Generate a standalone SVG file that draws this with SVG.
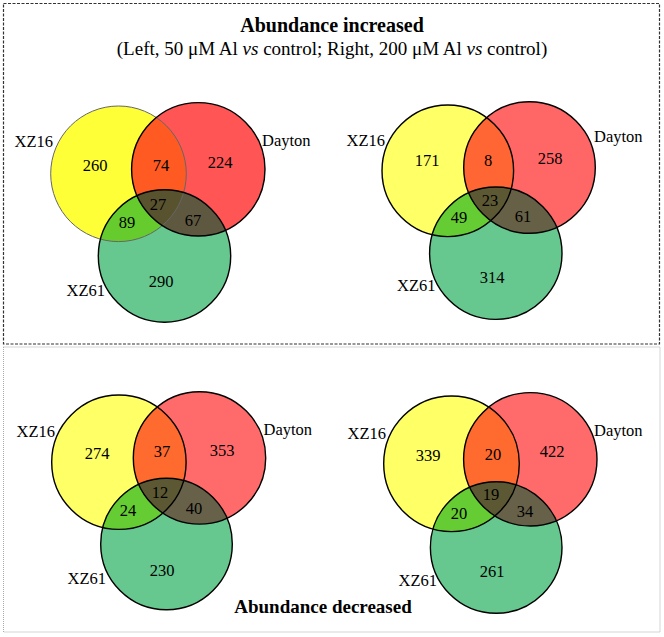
<svg xmlns="http://www.w3.org/2000/svg" width="664" height="637" viewBox="0 0 664 637">
<style>
text{font-family:"Liberation Serif","Times New Roman",serif;font-size:16.5px;fill:#000}
.t{font-weight:bold;font-size:20px}
.sub{font-size:19px}
.num{text-anchor:middle}
.ol{fill:none;stroke:#000;stroke-width:1.4}
.g{fill:#66C88F}
</style>
<defs>
<clipPath id="cY1" clipPathUnits="userSpaceOnUse"><circle cx="118.5" cy="173.8" r="67.8"/></clipPath>
<clipPath id="cR1" clipPathUnits="userSpaceOnUse"><circle cx="198.3" cy="169.3" r="66.7"/></clipPath>
<clipPath id="cY2" clipPathUnits="userSpaceOnUse"><circle cx="447.8" cy="170.8" r="65.8"/></clipPath>
<clipPath id="cR2" clipPathUnits="userSpaceOnUse"><circle cx="529.5" cy="167.5" r="65.8"/></clipPath>
<clipPath id="cY3" clipPathUnits="userSpaceOnUse"><circle cx="118.9" cy="462.2" r="67.2"/></clipPath>
<clipPath id="cR3" clipPathUnits="userSpaceOnUse"><circle cx="199.5" cy="457.9" r="66.2"/></clipPath>
<clipPath id="cY4" clipPathUnits="userSpaceOnUse"><circle cx="451.5" cy="463.8" r="67.8"/></clipPath>
<clipPath id="cR4" clipPathUnits="userSpaceOnUse"><circle cx="530.3" cy="459.3" r="66.7"/></clipPath>
</defs>
<rect width="664" height="637" fill="#fff"/>
<g id="frames">
<rect x="3.5" y="3.5" width="656" height="340.5" fill="none" stroke="#333" stroke-width="1.2" stroke-dasharray="3,1.5"/>
<rect x="3.5" y="347" width="656.5" height="285" fill="none" stroke="#aaa" stroke-width="1" stroke-dasharray="1,1"/>
</g>
<g id="titles">
<text class="t" x="332" y="32" text-anchor="middle">Abundance increased</text>
<text class="sub" x="332" y="55" text-anchor="middle">(Left, 50 μM Al <tspan font-style="italic">vs</tspan> control; Right, 200 μM Al <tspan font-style="italic">vs</tspan> control)</text>
<text class="t" x="323" y="613" text-anchor="middle" style="font-size:19px">Abundance decreased</text>
</g>
<g id="venn-inc-50">
<circle cx="118.5" cy="173.8" r="67.8" fill="#FFFF38"/>
<circle cx="198.3" cy="169.3" r="66.7" fill="#FF5555"/>
<circle cx="164.5" cy="256" r="66.2" class="g"/>
<circle cx="198.3" cy="169.3" r="66.7" fill="#FF5A22" clip-path="url(#cY1)"/>
<circle cx="164.5" cy="256" r="66.2" fill="#66CC2E" clip-path="url(#cY1)"/>
<circle cx="164.5" cy="256" r="66.2" fill="#5F5840" clip-path="url(#cR1)"/>
<g clip-path="url(#cR1)"><circle cx="164.5" cy="256" r="66.2" fill="#58522E" clip-path="url(#cY1)"/></g>
<g id="set-XZ16-a"><circle cx="118.5" cy="173.8" r="67.8" fill="none" stroke="#666" stroke-width="1"/><text x="53" y="147" text-anchor="end">XZ16</text></g>
<g id="set-Dayton-a"><circle cx="198.3" cy="169.3" r="66.7" class="ol"/><text x="262" y="146">Dayton</text></g>
<g id="set-XZ61-a"><circle cx="164.5" cy="256" r="66.2" class="ol"/><text x="105" y="295.5" text-anchor="end">XZ61</text></g>
<text class="num" x="95" y="171">260</text>
<text class="num" x="161" y="171">74</text>
<text class="num" x="220" y="168">224</text>
<text class="num" x="158" y="210">27</text>
<text class="num" x="127" y="228">89</text>
<text class="num" x="193" y="226">67</text>
<text class="num" x="161" y="287">290</text>
</g>
<g id="venn-inc-200">
<circle cx="447.8" cy="170.8" r="65.8" fill="#FFFF66"/>
<circle cx="529.5" cy="167.5" r="65.8" fill="#FF6666"/>
<circle cx="495.8" cy="253.2" r="66.2" class="g"/>
<circle cx="529.5" cy="167.5" r="65.8" fill="#FF6633" clip-path="url(#cY2)"/>
<circle cx="495.8" cy="253.2" r="66.2" fill="#66CC33" clip-path="url(#cY2)"/>
<circle cx="495.8" cy="253.2" r="66.2" fill="#666046" clip-path="url(#cR2)"/>
<g clip-path="url(#cR2)"><circle cx="495.8" cy="253.2" r="66.2" fill="#5C5833" clip-path="url(#cY2)"/></g>
<g id="set-XZ16-b"><circle cx="447.8" cy="170.8" r="65.8" class="ol"/><text x="385" y="145.5" text-anchor="end">XZ16</text></g>
<g id="set-Dayton-b"><circle cx="529.5" cy="167.5" r="65.8" class="ol"/><text x="594" y="142">Dayton</text></g>
<g id="set-XZ61-b"><circle cx="495.8" cy="253.2" r="66.2" class="ol"/><text x="435.5" y="290.5" text-anchor="end">XZ61</text></g>
<text class="num" x="427" y="165.5">171</text>
<text class="num" x="488" y="165.5">8</text>
<text class="num" x="550" y="164">258</text>
<text class="num" x="490" y="205.5">23</text>
<text class="num" x="459" y="223">49</text>
<text class="num" x="523" y="222">61</text>
<text class="num" x="492" y="283">314</text>
</g>
<g id="venn-dec-50">
<circle cx="118.9" cy="462.2" r="67.2" fill="#FFFF66"/>
<circle cx="199.5" cy="457.9" r="66.2" fill="#FF6B6B"/>
<circle cx="166.5" cy="544" r="65.8" class="g"/>
<circle cx="199.5" cy="457.9" r="66.2" fill="#FF6A2E" clip-path="url(#cY3)"/>
<circle cx="166.5" cy="544" r="65.8" fill="#66CC33" clip-path="url(#cY3)"/>
<circle cx="166.5" cy="544" r="65.8" fill="#67614A" clip-path="url(#cR3)"/>
<g clip-path="url(#cR3)"><circle cx="166.5" cy="544" r="65.8" fill="#5C5833" clip-path="url(#cY3)"/></g>
<g id="set-XZ16-c"><circle cx="118.9" cy="462.2" r="67.2" class="ol"/><text x="55" y="437" text-anchor="end">XZ16</text></g>
<g id="set-Dayton-c"><circle cx="199.5" cy="457.9" r="66.2" class="ol"/><text x="263.5" y="434.5">Dayton</text></g>
<g id="set-XZ61-c"><circle cx="166.5" cy="544" r="65.8" class="ol"/><text x="106" y="584" text-anchor="end">XZ61</text></g>
<text class="num" x="97" y="459">274</text>
<text class="num" x="162" y="457">37</text>
<text class="num" x="222" y="456">353</text>
<text class="num" x="160" y="498">12</text>
<text class="num" x="128" y="515.5">24</text>
<text class="num" x="194" y="514">40</text>
<text class="num" x="162" y="575.5">230</text>
</g>
<g id="venn-dec-200">
<circle cx="451.5" cy="463.8" r="67.8" fill="#FFFF66"/>
<circle cx="530.3" cy="459.3" r="66.7" fill="#FF6B6B"/>
<circle cx="496.2" cy="547.5" r="65.8" class="g"/>
<circle cx="530.3" cy="459.3" r="66.7" fill="#FF6A2E" clip-path="url(#cY4)"/>
<circle cx="496.2" cy="547.5" r="65.8" fill="#66CC33" clip-path="url(#cY4)"/>
<circle cx="496.2" cy="547.5" r="65.8" fill="#67614A" clip-path="url(#cR4)"/>
<g clip-path="url(#cR4)"><circle cx="496.2" cy="547.5" r="65.8" fill="#5C5833" clip-path="url(#cY4)"/></g>
<g id="set-XZ16-d"><circle cx="451.5" cy="463.8" r="67.8" class="ol"/><text x="386" y="439" text-anchor="end">XZ16</text></g>
<g id="set-Dayton-d"><circle cx="530.3" cy="459.3" r="66.7" class="ol"/><text x="594" y="435.5">Dayton</text></g>
<g id="set-XZ61-d"><circle cx="496.2" cy="547.5" r="65.8" class="ol"/><text x="437" y="585.5" text-anchor="end">XZ61</text></g>
<text class="num" x="428" y="460.5">339</text>
<text class="num" x="493" y="459.5">20</text>
<text class="num" x="552" y="457">422</text>
<text class="num" x="491" y="500">19</text>
<text class="num" x="459" y="519">20</text>
<text class="num" x="525" y="517">34</text>
<text class="num" x="492" y="577">261</text>
</g>
<g id="connectors"/>
</svg>
